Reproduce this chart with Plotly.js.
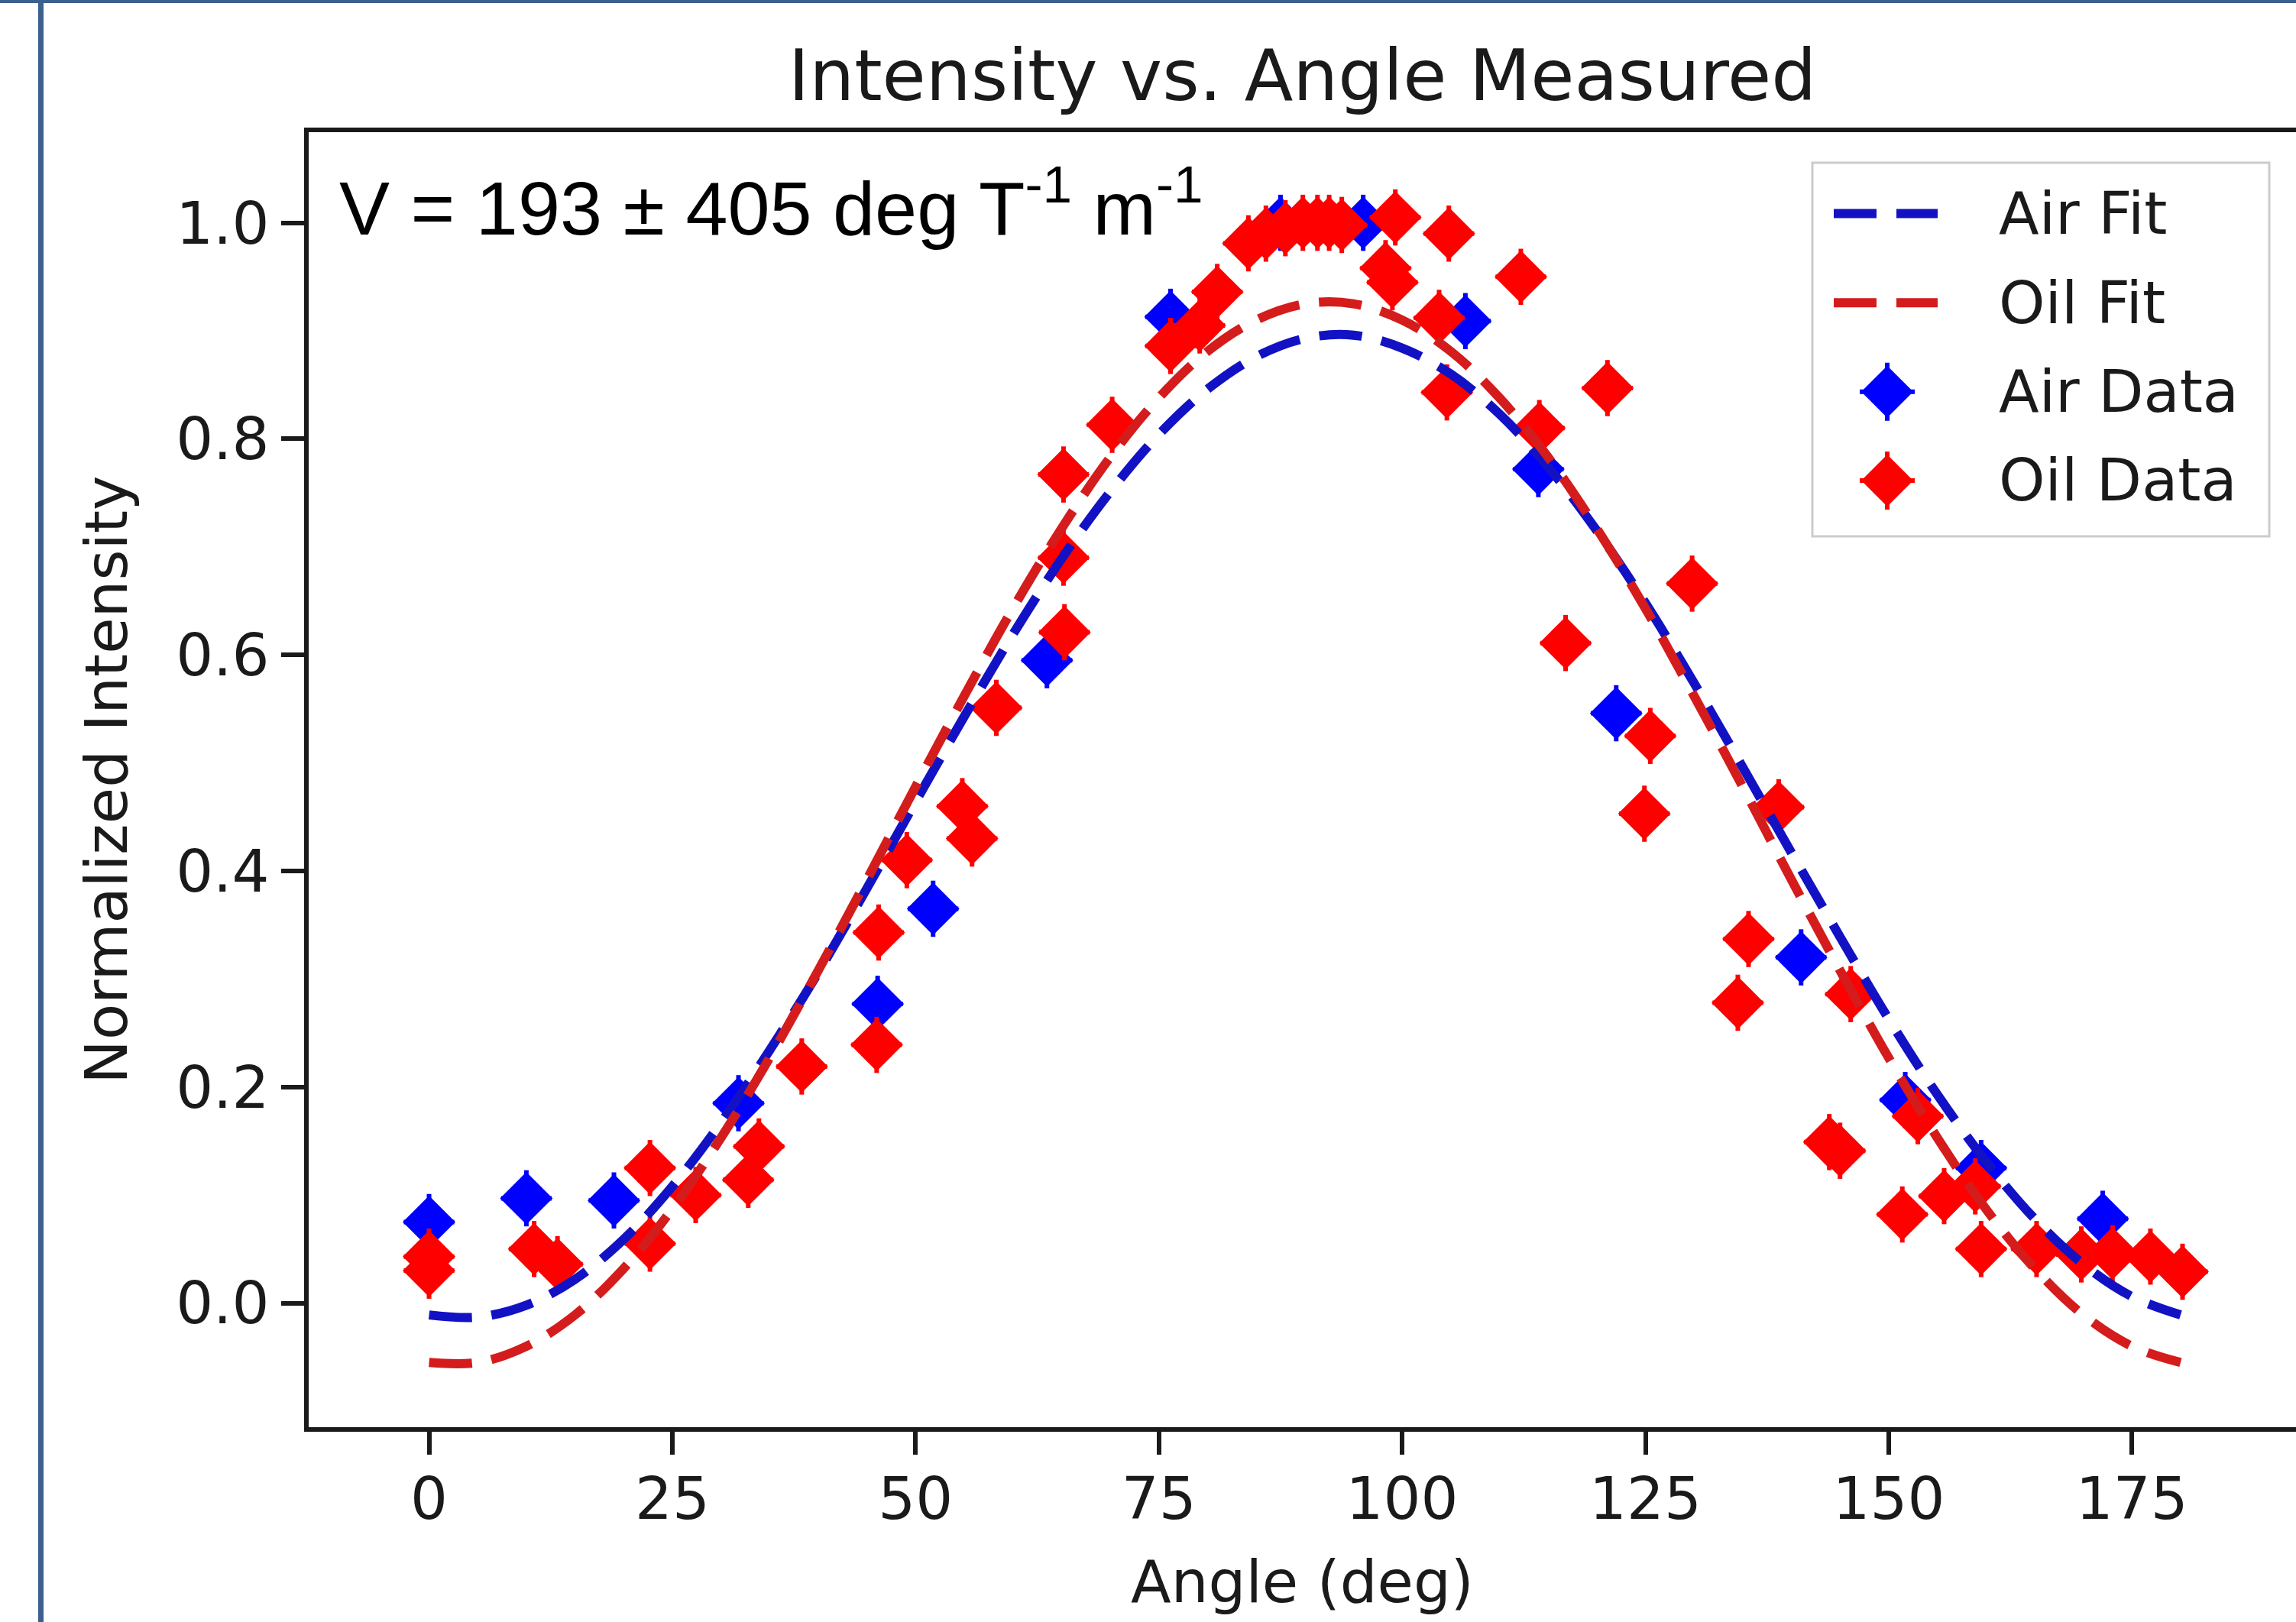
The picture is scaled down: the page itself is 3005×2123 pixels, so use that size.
<!DOCTYPE html>
<html>
<head>
<meta charset="utf-8">
<script src="https://cdn.plot.ly/plotly-3.0.1.min.js"></script>
<style>
html,body{margin:0;padding:0;background:#fff;overflow:hidden;width:3005px;height:2123px;}
#chart{position:absolute;left:0;top:0;width:3005px;height:2123px;}
.frame-top{position:absolute;left:0;top:0;width:3005px;height:4px;background:#3b5f8e;z-index:5;}
.frame-left{position:absolute;left:50px;top:0;width:7px;height:2123px;background:#3b5f8e;z-index:5;}
</style>
</head>
<body>
<div id="chart"></div>
<div class="frame-top"></div>
<div class="frame-left"></div>
<script>
// ---- data ----
const airX = [0, 10, 19, 31.8, 46.1, 51.8, 63.5, 76.2, 87.5, 96, 106.5, 114, 122, 141, 151.7, 159.5, 172];
const airY = [0.075, 0.097, 0.095, 0.185, 0.277, 0.365, 0.595, 0.913, 1.0, 1.0, 0.909, 0.772, 0.546, 0.320, 0.188, 0.125, 0.078];

const oilX = [0, 0, 10.8, 13.2, 22.7, 22.7, 27.4, 32.8, 33.9, 38.3, 46.0, 46.2, 49.1, 54.8, 55.8, 58.3,
  65.3, 65.2, 65.2, 70.2, 76.2, 79.2, 81.0, 84.2, 86.0, 88.0, 89.8, 91.3, 92.5, 93.8, 98.3, 99.0, 99.3,
  103.8, 104.6, 104.8, 112.2, 114.1, 116.8, 121.1, 124.9, 125.5, 129.8, 134.5, 135.6, 138.7, 143.9, 145.0,
  146.1, 151.4, 153.0, 155.7, 158.9, 159.5, 165.2, 169.8, 173.0, 176.9, 180.2];
const oilY = [0.043, 0.030, 0.050, 0.036, 0.125, 0.055, 0.100, 0.114, 0.145, 0.219, 0.239, 0.343, 0.410, 0.460, 0.430, 0.551,
  0.621, 0.690, 0.767, 0.813, 0.886, 0.905, 0.936, 0.981, 0.990, 0.995, 1.0, 1.0, 1.0, 0.998, 0.958, 0.945, 1.005,
  0.912, 0.843, 0.990, 0.950, 0.810, 0.611, 0.847, 0.453, 0.525, 0.666, 0.278, 0.337, 0.459, 0.149, 0.141,
  0.286, 0.082, 0.173, 0.099, 0.108, 0.050, 0.050, 0.045, 0.046, 0.043, 0.029];

const xErr = 2.6;
const yErr = 0.026;

const fitX = [0, 5, 10, 15, 20, 25, 30, 35, 40, 45, 50, 55, 60, 65, 70, 75, 80, 85, 90,
  95, 100, 105, 110, 115, 120, 125, 130, 135, 140, 145, 150, 155, 160, 165, 170, 175, 180];
const airFitY = [-0.011, -0.013, -0.002, 0.022, 0.059, 0.108, 0.167, 0.234, 0.306, 0.384, 0.464, 0.543, 0.619,
  0.689, 0.751, 0.804, 0.846, 0.876, 0.893, 0.896, 0.884, 0.860, 0.823, 0.774, 0.715, 0.648, 0.574, 0.496,
  0.417, 0.339, 0.263, 0.193, 0.131, 0.078, 0.036, 0.006, -0.011];
const oilFitY = [-0.055, -0.055, -0.040, -0.011, 0.032, 0.087, 0.153, 0.227, 0.308, 0.392, 0.478, 0.562, 0.643,
  0.717, 0.783, 0.838, 0.881, 0.910, 0.925, 0.925, 0.910, 0.881, 0.838, 0.783, 0.717, 0.643, 0.562, 0.478,
  0.392, 0.308, 0.227, 0.153, 0.087, 0.032, -0.011, -0.040, -0.055];

const xTicks = [0, 25, 50, 75, 100, 125, 150, 175];
const yTicks = [0, 0.2, 0.4, 0.6, 0.8, 1.0];
const yTickText = ['0.0', '0.2', '0.4', '0.6', '0.8', '1.0'];
const legendLabels = ['Air Fit', 'Oil Fit', 'Air Data', 'Oil Data'];
const titleText = 'Intensity vs. Angle Measured';
const xTitle = 'Angle (deg)';
const yTitle = 'Normalized Intensity';
const noteText = 'V = 193 ± 405 deg T<sup>-1</sup> m<sup>-1</sup>';

// ---- styling / layout ----
const BLUE = '#0000ff', RED = '#ff0000';
const BLUE_LINE = '#1212c4', RED_LINE = '#d41c1c';
const TXT = '#1a1a1a';
const FW = 3005, FH = 2123;
const ML = 404, MT = 173, MB = FH - 1868, MR = 0;
const PW = FW - ML - MR, PH = FH - MT - MB;
const px2x = p => (p - ML) / PW;
const py2y = p => (FH - MB - p) / PH;
const DASH = '56px,26px';
const LW = 12;

function dataTrace(x, y, color, name) {
  return {
    type: 'scatter', mode: 'markers', x: x, y: y, name: name,
    marker: {symbol: 'diamond', size: 53, color: color, line: {width: 0}},
    error_y: {type: 'constant', value: yErr, thickness: 6, width: 0, color: color},
    error_x: {type: 'constant', value: xErr, thickness: 6, width: 0, color: color},
    showlegend: false, hoverinfo: 'skip'
  };
}
function fitTrace(y, color, name) {
  return {
    type: 'scatter', mode: 'lines', x: fitX, y: y, name: name,
    line: {color: color, width: LW, dash: DASH, shape: 'spline', smoothing: 1},
    showlegend: false, hoverinfo: 'skip'
  };
}

const traces = [
  dataTrace(airX, airY, BLUE, legendLabels[2]),
  dataTrace(oilX, oilY, RED, legendLabels[3]),
  fitTrace(airFitY, BLUE_LINE, legendLabels[0]),
  fitTrace(oilFitY, RED_LINE, legendLabels[1])
];

// manual legend (matplotlib-like, large symbols)
const legRows = [279.6, 396.3, 512.7, 628.9];
const legLineX0 = 2400, legLineX1 = 2536, legSymX = 2470, legTextX = 2614;
const shapes = [
  {type: 'rect', xref: 'paper', yref: 'paper', layer: 'above',
   x0: px2x(2372), x1: px2x(2970), y0: py2y(702), y1: py2y(213),
   fillcolor: 'rgba(255,255,255,0.85)', line: {color: '#cccccc', width: 3}},
  {type: 'line', xref: 'paper', yref: 'paper', layer: 'above',
   x0: px2x(legLineX0), x1: px2x(legLineX1), y0: py2y(legRows[0]), y1: py2y(legRows[0]),
   line: {color: BLUE_LINE, width: LW, dash: DASH}},
  {type: 'line', xref: 'paper', yref: 'paper', layer: 'above',
   x0: px2x(legLineX0), x1: px2x(legLineX1), y0: py2y(legRows[1]), y1: py2y(legRows[1]),
   line: {color: RED_LINE, width: LW, dash: DASH}}
];
[[BLUE, legRows[2]], [RED, legRows[3]]].forEach(([c, ry]) => {
  shapes.push({type: 'path', xref: 'paper', yref: 'paper', layer: 'above',
    xsizemode: 'pixel', ysizemode: 'pixel', xanchor: px2x(legSymX), yanchor: py2y(ry),
    path: 'M-36,0L36,0M0,-38L0,38', line: {color: c, width: 6}});
  shapes.push({type: 'path', xref: 'paper', yref: 'paper', layer: 'above',
    xsizemode: 'pixel', ysizemode: 'pixel', xanchor: px2x(legSymX), yanchor: py2y(ry),
    path: 'M-34,0L0,34L34,0L0,-34Z', fillcolor: c, line: {width: 0}});
});

const annotations = [
  {xref: 'paper', yref: 'paper', x: px2x(442), y: py2y(265), xanchor: 'left', yanchor: 'middle',
   text: noteText, showarrow: false,
   font: {family: 'Liberation Sans, Arial, sans-serif', size: 99, color: '#000'}}
];
legendLabels.forEach((lab, i) => {
  annotations.push({xref: 'paper', yref: 'paper', x: px2x(legTextX), y: py2y(legRows[i]),
    xanchor: 'left', yanchor: 'middle', text: lab, showarrow: false,
    font: {family: 'DejaVu Sans', size: 77, color: TXT}});
});

const layout = {
  width: FW, height: FH,
  margin: {l: ML, r: MR, t: MT, b: MB, pad: 0, autoexpand: false},
  paper_bgcolor: '#ffffff', plot_bgcolor: '#ffffff',
  showlegend: false,
  font: {family: 'DejaVu Sans', color: TXT, size: 77},
  title: {text: titleText, font: {family: 'DejaVu Sans', size: 93, color: TXT},
          x: 0.5, xref: 'paper', xanchor: 'center', y: 1 - 98 / FH, yref: 'container', yanchor: 'middle'},
  xaxis: {
    range: [-12.37, 191.86], tickvals: xTicks, ticks: 'outside', ticklen: 30, tickwidth: 6, tickcolor: TXT,
    ticklabelstandoff: -8,
    showline: true, linewidth: 6, linecolor: TXT, mirror: true, showgrid: false, zeroline: false,
    tickfont: {family: 'DejaVu Sans', size: 77, color: TXT},
    title: {text: xTitle, font: {family: 'DejaVu Sans', size: 77, color: TXT}, standoff: 40}
  },
  yaxis: {
    range: [-0.1149, 1.0839], tickvals: yTicks, ticktext: yTickText, ticks: 'outside', ticklen: 30, tickwidth: 6,
    tickcolor: TXT, showline: true, linewidth: 6, linecolor: TXT, mirror: false, showgrid: false, zeroline: false,
    tickfont: {family: 'DejaVu Sans', size: 77, color: TXT},
    title: {text: yTitle, font: {family: 'DejaVu Sans', size: 77, color: TXT}, standoff: 40}
  },
  shapes: shapes,
  annotations: annotations,
  hovermode: false
};

Plotly.newPlot('chart', traces, layout, {staticPlot: true, displayModeBar: false});
</script>
</body>
</html>
